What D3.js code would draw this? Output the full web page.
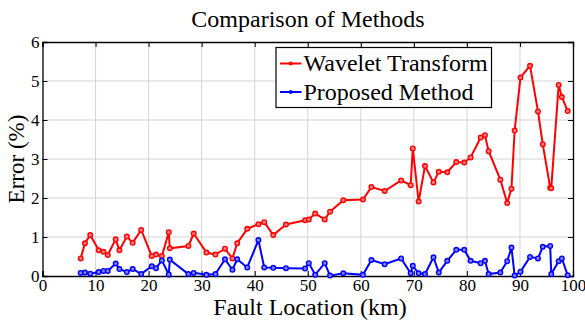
<!DOCTYPE html>
<html lang="en">
  <head>
    <meta charset="utf-8">
    <title>Comparison of Methods</title>
    <script src="https://cdn.jsdelivr.net/npm/d3@7"></script>
    <style>
      body { margin: 0; background: #fff; }
    </style>
  </head>
  <body>
    <script>
    // fault locations (km), shared by both series
    var faultKm = [7.2, 8.0, 9.0, 10.6, 11.5, 12.3, 13.8, 14.5, 15.9, 17.0, 18.6, 20.6, 21.4, 22.5,
      23.8, 24.0, 27.5, 28.5, 30.9, 32.6, 34.4, 35.8, 36.7, 38.6, 40.7, 41.8, 43.5, 45.9,
      49.5, 50.2, 51.4, 53.2, 54.2, 56.7, 60.4, 62.0, 64.5, 67.6, 69.4, 69.8, 70.9, 72.1,
      73.7, 74.7, 76.3, 78.0, 79.5, 80.7, 82.6, 83.4, 84.1, 86.3, 87.6, 88.4, 89.0, 90.1,
      91.9, 93.4, 94.3, 95.7, 95.9, 97.3, 97.9, 99.0];

    var waveletErr = [0.45, 0.84, 1.05, 0.66, 0.62, 0.54, 0.94, 0.66, 1.01, 0.85, 1.18, 0.51, 0.55, 0.51,
      1.12, 0.71, 0.77, 1.09, 0.60, 0.55, 0.70, 0.45, 0.84, 1.21, 1.33, 1.38, 1.05, 1.32,
      1.43, 1.45, 1.60, 1.45, 1.65, 1.94, 1.96, 2.28, 2.18, 2.45, 2.33, 3.27, 1.91, 2.82,
      2.40, 2.67, 2.66, 2.92, 2.91, 3.04, 3.55, 3.61, 3.20, 2.47, 1.87, 2.24, 3.73, 5.09,
      5.39, 4.22, 3.38, 2.26, 2.25, 4.90, 4.59, 4.23];

    var proposedErr = [0.08, 0.09, 0.06, 0.10, 0.13, 0.13, 0.32, 0.18, 0.10, 0.18, 0.05, 0.25, 0.20, 0.40,
      0.04, 0.42, 0.05, 0.08, 0.03, 0.05, 0.43, 0.16, 0.43, 0.22, 0.92, 0.22, 0.21, 0.20,
      0.19, 0.33, 0.03, 0.33, 0.01, 0.07, 0.03, 0.41, 0.30, 0.45, 0.07, 0.26, 0.07, 0.05,
      0.48, 0.09, 0.39, 0.67, 0.67, 0.39, 0.33, 0.39, 0.05, 0.09, 0.38, 0.73, 0.01, 0.11,
      0.49, 0.45, 0.75, 0.77, 0.05, 0.38, 0.45, 0.02];

    var seriesNames = ["Wavelet Transform", "Proposed Method"];
    var seriesColors = ["#ff0000", "#0000ff"];
    var xTicks = [0, 10, 20, 30, 40, 50, 60, 70, 80, 90, 100];
    var yTicks = [0, 1, 2, 3, 4, 5, 6];

    var serif = "'Liberation Serif', 'Times New Roman', Times, serif";

    var w = 585, h = 323;
    var margin = {top: 42, right: 12, bottom: 47, left: 42.5};

    var svg = d3.select("body").append("svg")
      .attr("width", w)
      .attr("height", h);

    var xScale = d3.scaleLinear().domain([0, 100]).range([margin.left, w - margin.right]);
    var yScale = d3.scaleLinear().domain([0, 6]).range([h - margin.bottom, margin.top]);

    // grid
    svg.append("g").selectAll("line")
      .data(xTicks.slice(1, -1)).enter().append("line")
      .attr("x1", function(d) { return xScale(d); })
      .attr("x2", function(d) { return xScale(d); })
      .attr("y1", yScale(0)).attr("y2", yScale(6))
      .attr("stroke", "#d4d4d4").attr("stroke-width", 1);
    svg.append("g").selectAll("line")
      .data(yTicks.slice(1, -1)).enter().append("line")
      .attr("x1", xScale(0)).attr("x2", xScale(100))
      .attr("y1", function(d) { return yScale(d); })
      .attr("y2", function(d) { return yScale(d); })
      .attr("stroke", "#d4d4d4").attr("stroke-width", 1);

    // axes (ticks inward, on all four sides)
    var xAxis = d3.axisBottom(xScale).tickValues(xTicks).tickSize(-5).tickPadding(3).tickFormat(d3.format("d"));
    var yAxis = d3.axisLeft(yScale).tickValues(yTicks).tickSize(-5).tickPadding(3).tickFormat(d3.format("d"));

    var gx = svg.append("g")
      .attr("transform", "translate(0," + yScale(0) + ")")
      .call(xAxis);
    var gy = svg.append("g")
      .attr("transform", "translate(" + xScale(0) + ",0)")
      .call(yAxis);
    svg.append("g")
      .attr("transform", "translate(0," + yScale(6) + ")")
      .call(d3.axisTop(xScale).tickValues(xTicks).tickSize(-5).tickFormat(""));
    svg.append("g")
      .attr("transform", "translate(" + xScale(100) + ",0)")
      .call(d3.axisRight(yScale).tickValues(yTicks).tickSize(-5).tickFormat(""));

    svg.selectAll(".domain").attr("stroke", "#000").attr("stroke-width", 1.3);
    svg.selectAll(".tick line").attr("stroke", "#000");
    svg.selectAll(".tick text")
      .attr("font-family", serif)
      .attr("font-size", 17)
      .attr("fill", "#000");
    gx.attr("font-family", serif);
    gy.attr("font-family", serif);

    // series
    var line = d3.line()
      .x(function(d) { return xScale(d[0]); })
      .y(function(d) { return yScale(d[1]); });

    [waveletErr, proposedErr].forEach(function(vals, i) {
      var pts = faultKm.map(function(x, j) { return [x, vals[j]]; });
      svg.append("path")
        .datum(pts)
        .attr("d", line)
        .attr("fill", "none")
        .attr("stroke", seriesColors[i])
        .attr("stroke-width", 2);
      svg.append("g").selectAll("circle")
        .data(pts).enter().append("circle")
        .attr("cx", function(d) { return xScale(d[0]); })
        .attr("cy", function(d) { return yScale(d[1]); })
        .attr("r", 2.3)
        .attr("fill", i === 0 ? "#ff8080" : "#8080ff")
        .attr("stroke", seriesColors[i])
        .attr("stroke-width", 1.4);
    });

    // legend
    var leg = svg.append("g");
    leg.append("rect")
      .attr("x", 276).attr("y", 47.5)
      .attr("width", 215.5).attr("height", 60)
      .attr("fill", "#fff").attr("stroke", "#000").attr("stroke-width", 1.2);
    seriesNames.forEach(function(name, i) {
      var cy = 63.5 + i * 28.5;
      leg.append("line")
        .attr("x1", 280).attr("x2", 301.5)
        .attr("y1", cy).attr("y2", cy)
        .attr("stroke", seriesColors[i]).attr("stroke-width", 2);
      leg.append("circle")
        .attr("cx", 290.7).attr("cy", cy).attr("r", 2)
        .attr("fill", seriesColors[i]);
      leg.append("text")
        .attr("x", 303.5).attr("y", cy + 7.5)
        .attr("font-family", serif)
        .attr("font-size", 24)
        .text(name);
    });

    // titles
    svg.append("text")
      .attr("x", 308).attr("y", 27)
      .attr("text-anchor", "middle")
      .attr("font-family", serif)
      .attr("font-size", 24)
      .text("Comparison of Methods");
    svg.append("text")
      .attr("x", 310).attr("y", 315)
      .attr("text-anchor", "middle")
      .attr("font-family", serif)
      .attr("font-size", 24)
      .text("Fault Location (km)");
    svg.append("text")
      .attr("transform", "translate(24," + yScale(3) + ") rotate(-90)")
      .attr("text-anchor", "middle")
      .attr("font-family", serif)
      .attr("font-size", 23)
      .text("Error (%)");
    </script>
  </body>
</html>
